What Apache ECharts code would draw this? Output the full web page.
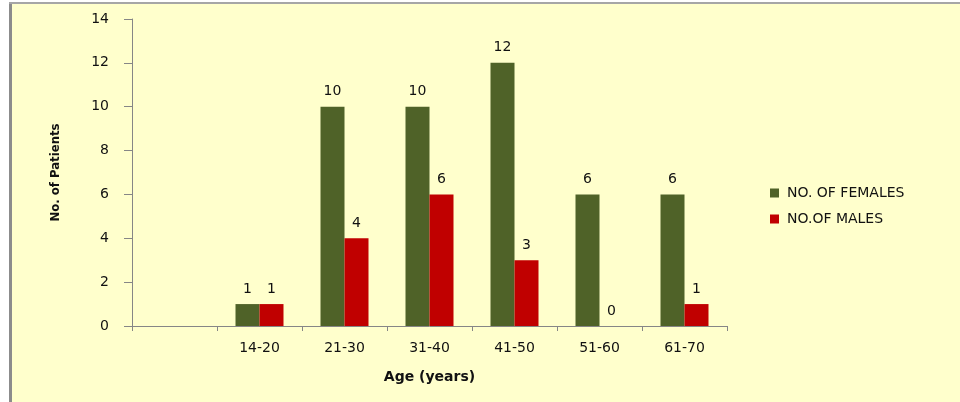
<!DOCTYPE html>
<html><head><meta charset="utf-8">
<script src="https://cdn.jsdelivr.net/npm/echarts@6/dist/echarts.min.js"></script>
<style>html,body{margin:0;padding:0;background:#fff}#c{width:960px;height:402px}</style>
</head><body><div id="c"></div>
<script>
const categories = ['', '14-20', '21-30', '31-40', '41-50', '51-60', '61-70'];
const females = [null, 1, 10, 10, 12, 6, 6];
const males = [null, 1, 4, 6, 3, 0, 1];
const yTicks = { min: 0, max: 14, interval: 2 };

const chart = echarts.init(document.getElementById('c'));
chart.setOption({
  backgroundColor: '#ffffff',
  animation: false,
  graphic: [
    { type: 'rect', z: -10, shape: { x: 12, y: 4, width: 948, height: 398 }, style: { fill: '#FFFFCC' } },
    { type: 'rect', z: -9, shape: { x: 9, y: 2, width: 3, height: 400 }, style: { fill: '#8c8c8c' } },
    { type: 'rect', z: -9, shape: { x: 9, y: 2, width: 951, height: 2 }, style: { fill: '#a6a6a6' } }
  ],
  grid: { left: 132, right: 233, top: 19, bottom: 76 },
  legend: {
    orient: 'vertical', left: 765, top: 181, itemWidth: 9, itemHeight: 9, itemGap: 12,
    icon: 'rect',
    textStyle: { fontFamily: 'DejaVu Sans', fontSize: 14, color: '#111', padding: [0, 0, 0, 3] },
    data: ['NO. OF FEMALES', 'NO.OF MALES']
  },
  xAxis: {
    type: 'category', data: categories,
    name: 'Age (years)', nameLocation: 'middle', nameGap: 44,
    nameTextStyle: { fontFamily: 'DejaVu Sans', fontWeight: 'bold', fontSize: 14, color: '#111' },
    axisLine: { lineStyle: { color: '#868686', width: 1 } },
    axisTick: { show: true, length: 5, lineStyle: { color: '#868686' } },
    axisLabel: { fontFamily: 'DejaVu Sans', fontSize: 14, color: '#111', margin: 15 }
  },
  yAxis: {
    type: 'value', min: yTicks.min, max: yTicks.max, interval: yTicks.interval,
    name: 'No. of Patients', nameLocation: 'middle', nameGap: 70,
    nameTextStyle: { fontFamily: 'DejaVu Sans Condensed', fontWeight: 'bold', fontSize: 13, color: '#111' },
    axisLine: { show: true, lineStyle: { color: '#868686', width: 1 } },
    axisTick: { show: true, length: 8, lineStyle: { color: '#868686' } },
    splitLine: { show: false },
    axisLabel: { fontFamily: 'DejaVu Sans', fontSize: 14, color: '#111', margin: 23 }
  },
  series: [
    {
      name: 'NO. OF FEMALES', type: 'bar', data: females, barWidth: 24, barGap: '0%',
      itemStyle: { color: '#4F6228' },
      label: { show: true, position: 'top', distance: 8, fontFamily: 'DejaVu Sans', fontSize: 14, color: '#111' }
    },
    {
      name: 'NO.OF MALES', type: 'bar', data: males, barWidth: 24, barGap: '0%',
      itemStyle: { color: '#C00000' },
      label: { show: true, position: 'top', distance: 8, fontFamily: 'DejaVu Sans', fontSize: 14, color: '#111' }
    }
  ]
});
</script></body></html>
